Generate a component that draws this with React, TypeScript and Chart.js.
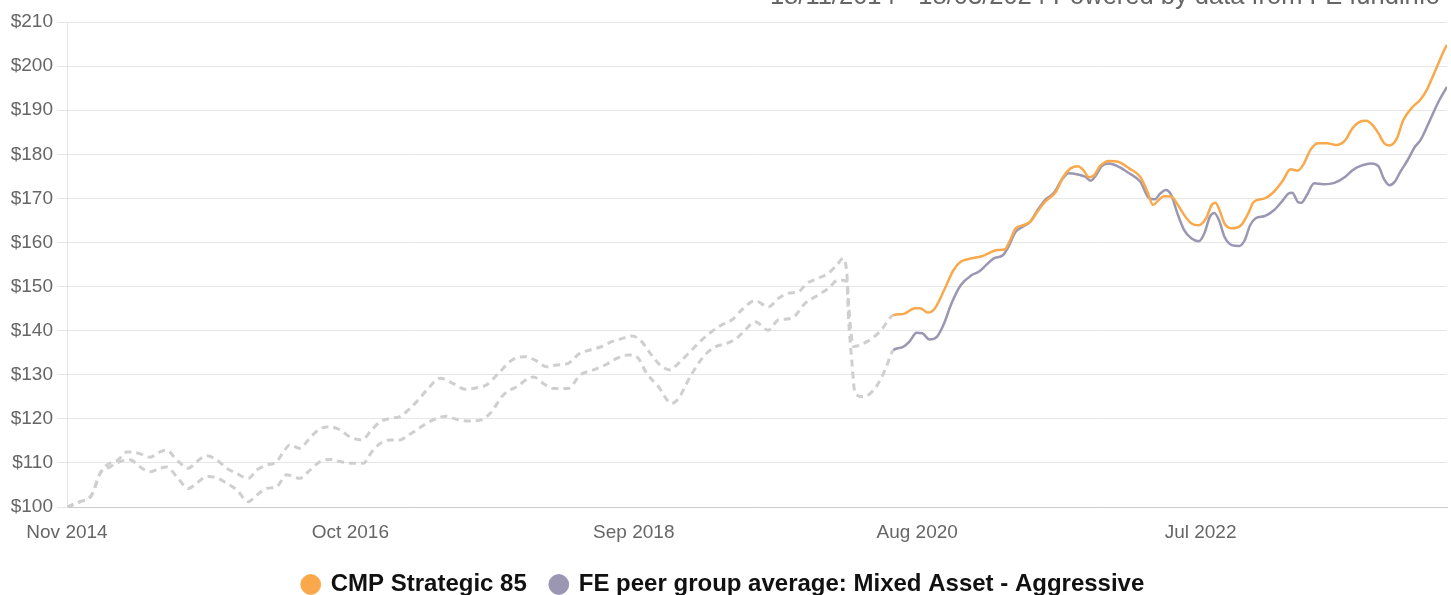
import React, { useEffect, useRef } from 'react';
import { Chart, registerables } from 'chart.js';

Chart.register(...registerables);

const FONT = '"Liberation Sans", Arial, Helvetica, sans-serif';

const headerText = '18/11/2014 - 18/03/2024 Powered by data from FE fundinfo';
const seriesNames = ['CMP Strategic 85', 'FE peer group average: Mixed Asset - Aggressive'];
const seriesColors = ['#f9a94b', '#9b96b1'];
const simulatedColor = '#cfcfcf';

// x values are months elapsed since 18 Nov 2014
const xTickMonths = [0, 23, 46, 69, 92];
const xTickLabels = ['Nov 2014', 'Oct 2016', 'Sep 2018', 'Aug 2020', 'Jul 2022'];
const yTickValues = [100, 110, 120, 130, 140, 150, 160, 170, 180, 190, 200, 210];
const simulatedUntil = 67.07; // history before this month is simulated (dashed grey)

const cmpMonths = [
  0, 1.06, 2.0, 2.68, 3.22, 4.16, 4.85, 5.79, 6.74, 7.55,
  8.09, 8.9, 9.85, 10.53, 11.34, 12.15, 12.96, 13.77, 14.72, 15.4,
  16.21, 17.02, 17.56, 18.1, 18.91, 19.58, 20.4, 21.35, 22.16, 22.97,
  23.92, 24.73, 25.41, 26.22, 27.03, 27.7, 28.38, 29.2, 30.28, 31.36,
  32.31, 33.39, 34.07, 35.01, 36.1, 37.18, 37.99, 38.94, 39.75, 40.69,
  41.64, 42.45, 43.4, 44.21, 45.15, 45.84, 46.51, 47.32, 48.13, 48.94,
  49.62, 50.57, 51.52, 52.33, 53.14, 53.95, 54.76, 55.84, 56.92, 57.73,
  58.55, 59.36, 60.04, 60.98, 61.79, 62.48, 63.01, 63.29, 63.42, 63.56,
  63.82, 64.91, 65.99, 67.07,
  67.92, 68.81, 69.26, 69.85, 70.45, 71.19, 71.94, 72.53, 73.43, 74.16,
  74.91, 75.5, 76.1, 76.54, 76.99, 77.59, 78.18, 78.77, 79.37, 80.26,
  80.86, 81.45, 82.05, 82.49, 82.94, 83.38, 83.83, 84.57, 85.32, 86.2,
  87.1, 87.69, 88.14, 88.59, 89.03, 89.63, 90.07, 90.67, 91.27, 91.86,
  92.45, 92.9, 93.2, 93.49, 93.94, 94.53, 95.28, 95.87, 96.31, 97.21,
  97.95, 98.69, 99.29, 99.89, 100.33, 100.92, 101.52, 102.26, 103.0, 103.75,
  104.3, 104.87, 105.44, 106.0, 106.49, 106.9, 107.32, 107.91, 108.46, 109.27,
  109.82, 110.36, 110.9, 111.3, 111.7, 112.0,
];
const cmpValues = [
  100, 101.2, 102.7, 107.6, 109.5, 110.7, 112.5, 112.2, 111.3, 112.5,
  112.9, 110.7, 108.8, 110.3, 111.6, 110.7, 108.8, 107.6, 106.5, 108.4,
  109.5, 110.3, 112.5, 114.1, 113.3, 115.2, 117.5, 118.2, 117.5, 115.9,
  115.2, 117.5, 119.3, 120.1, 120.5, 122.0, 123.9, 126.5, 129.2, 128.0,
  126.7, 127.1, 127.7, 130.3, 133.3, 134.1, 133.3, 131.8, 132.2, 132.6,
  134.9, 135.6, 136.4, 137.5, 138.3, 138.8, 137.9, 134.9, 132.2, 131.1,
  132.6, 135.2, 137.9, 139.8, 141.3, 142.4, 144.7, 146.8, 145.4, 147.3,
  148.5, 148.8, 150.7, 151.9, 153.0, 154.9, 156.4, 153.0, 146.9, 141.7,
  136.4, 137.5, 139.8, 143.5,
  143.8, 145.1, 145.1, 144.1, 145.1, 149.2, 153.7, 155.6, 156.4, 156.8,
  157.7, 158.3, 158.4, 160.5, 163.2, 163.9, 164.7, 167.0, 169.2, 171.5,
  174.9, 176.8, 177.3, 176.4, 174.8, 175.3, 177.3, 178.5, 178.3, 176.8,
  174.9, 171.5, 168.5, 169.6, 170.5, 170.4, 168.9, 166.2, 164.3, 163.9,
  165.5, 168.5, 169.0, 167.7, 164.3, 163.2, 163.9, 166.6, 169.2, 170.0,
  171.5, 174.1, 176.6, 176.3, 177.6, 181.0, 182.5, 182.5, 182.1, 183.2,
  185.8, 187.3, 187.6, 186.5, 184.5, 182.5, 182.0, 183.5, 187.8, 190.9,
  192.3, 194.6, 198.0, 200.6, 203.2, 204.8,
];

const peerMonths = [
  0, 1.06, 2.0, 2.68, 3.49, 4.3, 5.11, 5.93, 6.74, 7.55,
  8.09, 8.9, 9.85, 10.53, 11.34, 12.15, 12.96, 13.77, 14.72, 15.4,
  16.21, 17.02, 17.83, 18.91, 19.58, 20.54, 21.35, 22.16, 23.24, 24.05,
  24.73, 25.41, 26.22, 27.03, 27.7, 28.38, 29.2, 30.01, 30.82, 31.36,
  32.58, 33.52, 34.33, 35.41, 36.5, 37.85, 38.66, 39.47, 40.69, 41.64,
  42.72, 43.67, 44.62, 45.56, 46.24, 47.05, 47.99, 49.08, 49.62, 50.57,
  51.65, 52.6, 53.55, 54.36, 55.03, 55.84, 56.92, 57.73, 58.82, 59.9,
  60.98, 61.79, 62.6, 63.29, 63.42, 63.69, 63.96, 64.64, 65.58, 66.4,
  67.07,
  67.78, 68.37, 68.96, 69.41, 70.0, 70.6, 71.19, 71.79, 72.53, 73.43,
  74.02, 74.61, 75.21, 75.95, 76.4, 76.99, 77.59, 78.18, 78.77, 79.37,
  80.11, 80.71, 81.3, 82.05, 82.64, 83.08, 83.53, 83.98, 84.57, 85.32,
  86.2, 87.1, 87.84, 88.29, 88.73, 89.18, 89.63, 90.07, 90.67, 91.27,
  91.86, 92.31, 92.75, 93.11, 93.49, 93.94, 94.53, 95.13, 95.58, 96.02,
  96.47, 97.21, 97.95, 98.69, 99.14, 99.44, 99.89, 100.18, 100.62, 101.22,
  101.96, 102.86, 103.75, 104.34, 104.94, 105.83, 106.43, 106.87, 107.32, 107.77,
  108.21, 108.81, 109.4, 109.85, 110.63, 111.31, 112.0,
];
const peerValues = [
  100, 101.2, 102.7, 107.6, 109.1, 110.3, 110.7, 109.1, 108.0, 108.8,
  109.1, 106.9, 104.2, 105.4, 106.9, 106.6, 105.4, 103.9, 101.2, 102.7,
  104.2, 104.6, 107.3, 106.5, 108.0, 110.3, 110.8, 110.3, 109.9, 109.9,
  112.5, 114.4, 115.2, 115.2, 116.3, 117.5, 119.0, 120.1, 120.6, 120.1,
  119.5, 119.7, 121.2, 125.4, 127.3, 129.5, 128.0, 126.9, 126.9, 129.9,
  131.1, 132.2, 133.7, 134.5, 134.1, 130.3, 127.3, 123.5, 124.6, 129.5,
  134.1, 136.3, 137.1, 138.3, 140.1, 142.0, 140.1, 142.4, 142.8, 146.2,
  148.1, 149.6, 151.5, 151.1, 143.2, 133.3, 125.8, 125.0, 126.9, 131.1,
  135.6,
  136.2, 137.5, 139.5, 139.4, 138.0, 138.6, 141.7, 146.2, 150.3, 152.6,
  153.4, 154.9, 156.4, 157.1, 159.0, 162.4, 163.6, 164.7, 167.3, 169.6,
  171.3, 174.1, 175.7, 175.4, 174.9, 174.0, 175.3, 177.3, 177.9, 177.2,
  175.7, 173.8, 170.0, 169.8, 171.1, 171.9, 170.7, 167.0, 162.8, 160.9,
  160.3, 162.1, 165.8, 166.7, 165.1, 161.3, 159.4, 159.2, 160.5, 163.9,
  165.5, 166.0, 167.3, 169.6, 171.1, 171.3, 169.2, 169.0, 170.7, 173.4,
  173.2, 173.5, 174.9, 176.4, 177.3, 177.9, 177.3, 174.5, 173.0, 173.8,
  176.0, 178.7, 181.7, 183.2, 187.8, 191.9, 195.3,
];

function toPoints(xs: number[], ys: number[]) {
  const n = Math.min(xs.length, ys.length);
  const out: { x: number; y: number }[] = [];
  for (let i = 0; i < n; i++) out.push({ x: xs[i], y: ys[i] });
  return out;
}

const headerPlugin = {
  id: 'headerText',
  afterDraw(chart: any) {
    const { ctx } = chart;
    ctx.save();
    ctx.font = `25.5px ${FONT}`;
    ctx.fillStyle = '#666666';
    ctx.textAlign = 'right';
    ctx.textBaseline = 'alphabetic';
    ctx.fillText(headerText, chart.width - 11, 4);
    ctx.restore();
  },
};

function makeDataset(label: string, color: string, xs: number[], ys: number[]) {
  const isSim = (ctx: any) => ctx.p1.parsed.x <= simulatedUntil + 1e-6;
  return {
    label,
    data: toPoints(xs, ys),
    borderColor: color,
    backgroundColor: color,
    borderWidth: 2.5,
    pointRadius: 0,
    pointHoverRadius: 0,
    pointStyle: 'circle',
    pointBorderWidth: 1,
    cubicInterpolationMode: 'monotone' as const,
    fill: false,
    segment: {
      borderColor: (ctx: any) => (isSim(ctx) ? simulatedColor : undefined),
      borderDash: (ctx: any) => (isSim(ctx) ? [7, 5] : undefined),
      borderWidth: (ctx: any) => (isSim(ctx) ? 3 : undefined),
    },
  };
}

export default function App() {
  const canvasRef = useRef<HTMLCanvasElement | null>(null);

  useEffect(() => {
    if (!canvasRef.current) return;
    Chart.defaults.font.family = FONT;
    const chart = new Chart(canvasRef.current, {
      type: 'line',
      data: {
        datasets: [
          makeDataset(seriesNames[0], seriesColors[0], cmpMonths, cmpValues),
          makeDataset(seriesNames[1], seriesColors[1], peerMonths, peerValues),
        ],
      },
      options: {
        animation: false,
        responsive: false,
        devicePixelRatio: 1,
        events: [],
        layout: { padding: { top: 22, right: 4, left: 0, bottom: 0 } },
        plugins: {
          legend: {
            position: 'bottom',
            maxHeight: 46.5,
            labels: {
              usePointStyle: true,
              pointStyle: 'circle',
              boxWidth: 16,
              boxHeight: 14,
              padding: 24,
              color: '#111111',
              font: { size: 24, weight: 'bold', family: FONT },
            },
          },
          tooltip: { enabled: false },
        },
        scales: {
          x: {
            type: 'linear',
            min: 0,
            max: 112,
            afterBuildTicks: (scale: any) => {
              scale.ticks = xTickMonths.map((v) => ({ value: v }));
            },
            afterFit: (scale: any) => {
              scale.height = 41.5;
            },
            ticks: {
              autoSkip: false,
              maxRotation: 0,
              padding: 14,
              color: '#666666',
              font: { size: 19, family: FONT },
              callback: (v: any) => {
                const i = xTickMonths.indexOf(Number(v));
                return i >= 0 ? xTickLabels[i] : '';
              },
            },
            grid: { display: false, drawTicks: false },
            border: { display: true, color: '#cccccc', width: 1 },
          },
          y: {
            type: 'linear',
            min: 100,
            max: 210,
            afterBuildTicks: (scale: any) => {
              scale.ticks = yTickValues.map((v) => ({ value: v }));
            },
            afterFit: (scale: any) => {
              scale.width = 67;
            },
            ticks: {
              padding: 4,
              color: '#666666',
              font: { size: 19, family: FONT },
              callback: (v: any) => '$' + v,
            },
            grid: { color: '#e6e6e6', lineWidth: 1, tickLength: 10 },
            border: { display: true, color: '#e6e6e6', width: 1 },
          },
        },
      },
      plugins: [headerPlugin],
    } as any);
    return () => chart.destroy();
  }, []);

  return (
    <div
      style={{
        position: 'fixed',
        left: 0,
        top: 0,
        width: 1451,
        height: 595,
        overflow: 'hidden',
        background: '#ffffff',
      }}
    >
      <canvas ref={canvasRef} width={1451} height={595} style={{ display: 'block' }} />
    </div>
  );
}
